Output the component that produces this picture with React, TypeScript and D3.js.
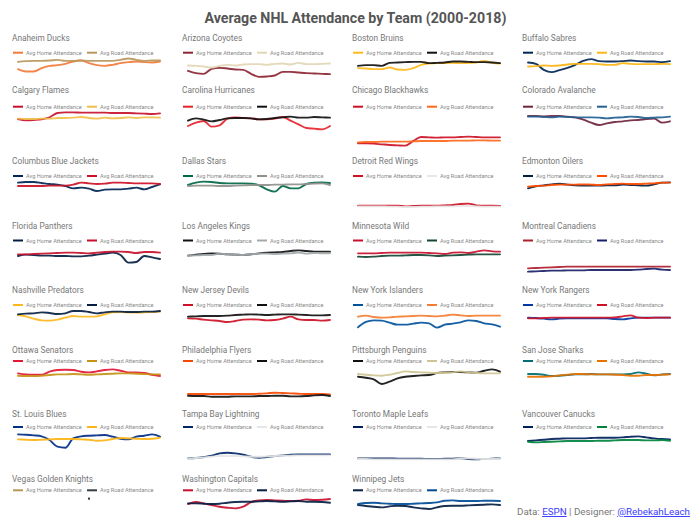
import React from "react";
import * as d3 from "d3";

const YEARS = [2000, 2001, 2002, 2003, 2004, 2005, 2006, 2007, 2008, 2009, 2010, 2011, 2012, 2013, 2014, 2015, 2016, 2017, 2018];

const TEAMS = [
  "Anaheim Ducks", "Arizona Coyotes", "Boston Bruins", "Buffalo Sabres",
  "Calgary Flames", "Carolina Hurricanes", "Chicago Blackhawks", "Colorado Avalanche",
  "Columbus Blue Jackets", "Dallas Stars", "Detroit Red Wings", "Edmonton Oilers",
  "Florida Panthers", "Los Angeles Kings", "Minnesota Wild", "Montreal Canadiens",
  "Nashville Predators", "New Jersey Devils", "New York Islanders", "New York Rangers",
  "Ottawa Senators", "Philadelphia Flyers", "Pittsburgh Penguins", "San Jose Sharks",
  "St. Louis Blues", "Tampa Bay Lightning", "Toronto Maple Leafs", "Vancouver Canucks",
  "Vegas Golden Knights", "Washington Capitals", "Winnipeg Jets",
];

const HOME_COLORS = [
  "#F47A38", "#8C2633", "#FFB81C", "#002654",
  "#C8102E", "#E4242B", "#CE1126", "#6F263D",
  "#002654", "#006847", "#CE1126", "#041E42",
  "#041E42", "#111111", "#C8102E", "#AF1E2D",
  "#FFB81C", "#CE1126", "#00539B", "#0038A8",
  "#E31837", "#F74902", "#111111", "#006D75",
  "#002F87", "#002868", "#00205B", "#00205B",
  "#B4975A", "#C8102E", "#041E42",
];

const ROAD_COLORS = [
  "#B9975B", "#E2D6B5", "#111111", "#FCB514",
  "#F1BE48", "#111111", "#FF671B", "#236192",
  "#CE1126", "#8F8F8C", "#E6E6E6", "#FF4C00",
  "#C8102E", "#A2AAAD", "#154734", "#192168",
  "#041E42", "#111111", "#F47D30", "#CE1126",
  "#C69214", "#111111", "#CFC493", "#EA7200",
  "#FCB514", "#E6E6E6", "#E6E6E6", "#00843D",
  "#333F42", "#041E42", "#004C97",
];

// Average attendance index (thousands)
const anaheimHome = [16.4, 15.7, 15.7, 16.7, 17.4, 17.6, 18.0, 18.7, 19.0, 18.2, 17.6, 17.4, 17.7, 18.2, 18.5, 18.7, 18.5, 18.4, 18.7];
const anaheimRoad = [18.6, 18.8, 18.9, 18.9, 19.0, 19.2, 18.9, 18.9, 19.0, 18.9, 18.9, 18.9, 18.9, 19.2, 19.6, 19.2, 18.9, 19.0, 19.0];
const arizonaHome = [15.9, 15.2, 15.0, 16.5, 16.8, 16.6, 16.3, 16.2, 15.0, 14.1, 14.2, 14.5, 15.6, 15.6, 15.4, 15.2, 15.1, 15.0, 14.9];
const arizonaRoad = [17.5, 17.4, 17.2, 16.9, 17.4, 17.7, 17.5, 17.8, 17.9, 17.9, 17.7, 18.0, 18.1, 17.8, 18.3, 17.9, 17.9, 18.0, 18.1];
const bostonHome = [16.7, 16.6, 16.4, 16.4, 16.9, 16.3, 16.2, 16.7, 17.7, 18.1, 18.2, 18.2, 18.3, 18.2, 18.3, 18.4, 18.9, 18.3, 18.1];
const bostonRoad = [17.4, 17.6, 17.6, 17.4, 18.3, 18.4, 18.5, 18.6, 18.6, 18.2, 18.3, 18.4, 18.7, 18.7, 18.6, 18.5, 18.5, 18.4, 18.2];
const buffaloHome = [18.4, 18.0, 16.2, 15.5, 16.1, 16.8, 17.7, 18.9, 19.4, 18.8, 18.7, 18.7, 18.8, 19.0, 18.8, 18.7, 18.7, 18.5, 18.8];
const buffaloRoad = [17.2, 17.3, 17.5, 17.4, 17.5, 17.8, 18.0, 18.0, 18.0, 17.9, 17.7, 17.7, 18.2, 18.0, 17.9, 17.9, 17.9, 18.0, 17.9];
const calgaryHome = [17.2, 16.8, 16.9, 17.1, 17.7, 19.0, 19.2, 19.2, 19.1, 19.1, 19.1, 19.1, 19.0, 19.0, 19.0, 18.9, 18.8, 18.7, 18.9];
const calgaryRoad = [17.3, 17.2, 17.2, 17.3, 17.3, 17.5, 17.5, 17.6, 17.8, 17.5, 17.3, 17.6, 17.4, 17.5, 17.7, 17.5, 17.7, 17.7, 17.6];
const carolinaHome = [15.1, 16.1, 16.6, 14.9, 15.3, 17.3, 17.7, 17.5, 17.4, 17.1, 17.1, 17.3, 17.8, 16.7, 15.6, 14.5, 14.3, 14.1, 15.1];
const carolinaRoad = [16.7, 17.4, 17.0, 16.5, 16.9, 17.4, 17.5, 17.5, 17.4, 17.1, 17.2, 17.5, 17.7, 17.9, 17.6, 17.6, 17.8, 17.7, 17.6];
const chicagoHome = [9.9, 9.9, 9.8, 9.6, 9.4, 9.3, 9.2, 10.6, 11.8, 11.7, 11.6, 11.7, 11.7, 11.8, 11.9, 11.8, 11.7, 11.7, 11.7];
const chicagoRoad = [10.2, 10.3, 10.3, 10.4, 10.4, 10.4, 10.4, 10.5, 10.6, 10.6, 10.6, 10.6, 10.7, 10.7, 10.7, 10.8, 10.8, 10.7, 10.7];
const coloradoHome = [18.1, 18.1, 18.0, 18.1, 18.1, 17.9, 17.7, 17.0, 16.1, 15.4, 15.9, 16.3, 16.5, 16.8, 16.9, 17.2, 17.3, 16.1, 16.5];
const coloradoRoad = [17.9, 17.9, 17.8, 17.7, 17.9, 17.8, 17.7, 17.7, 17.7, 17.6, 17.4, 17.6, 17.7, 17.9, 17.8, 17.5, 17.6, 17.7, 17.9];
const columbusHome = [19.4, 19.6, 19.6, 19.3, 19.0, 18.8, 18.4, 17.7, 17.9, 17.6, 16.9, 17.3, 17.4, 17.4, 17.6, 17.9, 17.4, 18.1, 18.9];
const columbusRoad = [18.4, 18.4, 18.4, 18.4, 18.5, 18.5, 18.5, 18.8, 19.4, 19.2, 19.0, 19.1, 19.4, 19.4, 19.3, 19.2, 19.2, 19.2, 19.0];
const dallasHome = [18.7, 19.4, 19.7, 19.6, 19.3, 19.2, 19.2, 19.2, 19.1, 18.6, 17.4, 16.7, 18.4, 17.7, 17.7, 19.0, 19.4, 19.5, 19.3];
const dallasRoad = [18.4, 18.5, 18.5, 18.5, 18.4, 18.4, 18.5, 18.6, 18.7, 18.7, 18.7, 18.8, 18.8, 18.9, 18.9, 19.0, 19.1, 19.2, 18.7];
const detroitHome = [12.5, 12.5, 12.5, 12.5, 12.5, 12.5, 12.3, 12.4, 12.5, 12.5, 12.5, 12.6, 12.7, 13.0, 13.1, 12.6, 12.5, 12.5, 12.4];
const detroitRoad = [12.3, 12.3, 12.3, 12.3, 12.2, 12.2, 12.1, 12.1, 12.2, 12.2, 12.3, 12.3, 12.3, 12.4, 12.4, 12.3, 12.2, 12.2, 12.2];
const edmontonHome = [17.7, 18.3, 18.6, 18.9, 19.1, 18.8, 18.6, 18.5, 18.5, 18.5, 18.6, 18.6, 18.8, 18.7, 18.6, 18.5, 18.9, 19.4, 19.5];
const edmontonRoad = [18.2, 18.4, 18.5, 18.7, 18.8, 18.8, 18.8, 18.9, 18.8, 18.7, 18.9, 19.0, 19.1, 19.0, 19.0, 19.1, 19.2, 19.4, 19.4];
const floridaHome = [16.9, 17.3, 17.2, 17.0, 17.0, 16.9, 16.9, 16.8, 16.8, 17.0, 17.3, 17.6, 17.9, 17.2, 14.9, 15.1, 16.9, 16.5, 16.0];
const floridaRoad = [17.4, 17.4, 17.5, 17.6, 17.7, 17.8, 17.9, 17.9, 17.8, 17.7, 17.9, 18.1, 18.2, 18.2, 18.1, 17.8, 18.1, 18.1, 17.9];
const losAngelesHome = [17.0, 17.3, 17.5, 17.7, 17.6, 17.4, 17.3, 17.2, 17.4, 17.7, 17.9, 18.0, 18.1, 18.4, 18.6, 18.4, 18.2, 18.2, 18.2];
const losAngelesRoad = [17.0, 17.1, 17.2, 17.2, 17.6, 17.4, 17.3, 17.2, 17.4, 17.6, 17.6, 17.5, 17.6, 17.7, 17.9, 17.6, 17.8, 17.7, 17.7];
const minnesotaHome = [17.7, 17.7, 17.7, 17.8, 17.9, 17.9, 17.9, 17.9, 17.9, 17.8, 17.7, 17.5, 17.9, 18.0, 17.8, 18.2, 18.6, 18.3, 18.2];
const minnesotaRoad = [16.7, 16.6, 16.7, 16.9, 17.0, 17.0, 17.1, 17.2, 17.2, 17.1, 16.9, 17.0, 17.1, 17.2, 17.3, 17.4, 17.4, 17.4, 17.4];
const montrealHome = [13.2, 13.3, 13.4, 13.5, 13.6, 13.7, 13.7, 13.7, 13.7, 13.7, 13.7, 13.7, 13.7, 13.7, 13.7, 13.7, 13.7, 13.7, 13.7];
const montrealRoad = [12.2, 12.3, 12.4, 12.5, 12.5, 12.6, 12.6, 12.6, 12.7, 12.7, 12.7, 12.7, 12.7, 12.7, 12.8, 13.0, 13.1, 12.8, 12.7];
const nashvilleHome = [18.4, 18.0, 17.3, 16.8, 16.7, 17.0, 17.6, 18.1, 17.9, 17.9, 18.0, 18.6, 19.2, 19.3, 19.2, 19.1, 19.2, 19.3, 19.4];
const nashvilleRoad = [18.6, 18.8, 18.9, 19.2, 19.0, 18.7, 18.9, 19.6, 19.6, 19.3, 18.9, 19.2, 19.4, 19.4, 19.3, 19.3, 19.4, 19.4, 19.6];
const newJerseyHome = [17.4, 17.3, 17.0, 16.8, 16.6, 16.3, 16.6, 17.0, 17.1, 17.0, 16.8, 16.9, 17.3, 17.9, 17.1, 16.9, 16.9, 16.7, 16.9];
const newJerseyRoad = [17.9, 18.0, 18.1, 18.1, 18.1, 18.2, 18.4, 18.5, 18.6, 18.5, 18.4, 18.5, 18.6, 18.6, 18.5, 18.4, 18.3, 18.3, 18.4];
const islandersHome = [14.7, 16.3, 16.8, 16.7, 16.1, 15.5, 15.5, 15.8, 16.1, 15.9, 14.6, 15.5, 15.8, 16.2, 16.8, 16.6, 15.9, 15.6, 14.9];
const islandersRoad = [17.9, 18.2, 17.8, 17.6, 17.7, 17.9, 18.0, 18.1, 18.2, 18.1, 18.0, 18.2, 18.5, 18.3, 18.1, 18.2, 18.2, 18.2, 18.2];
const rangersHome = [17.6, 17.5, 17.3, 17.1, 17.3, 17.4, 17.4, 17.4, 17.4, 17.4, 17.4, 17.2, 17.1, 17.4, 17.6, 17.6, 17.6, 17.6, 17.6];
const rangersRoad = [17.4, 17.4, 17.5, 17.6, 17.6, 17.6, 17.6, 17.6, 17.6, 17.6, 17.6, 17.7, 18.0, 18.3, 17.6, 17.5, 17.6, 17.6, 17.6];
const ottawaHome = [18.8, 18.5, 18.4, 18.4, 19.3, 19.8, 19.9, 19.8, 19.3, 19.1, 19.4, 19.8, 20.0, 19.6, 19.1, 19.1, 18.9, 18.4, 18.0];
const ottawaRoad = [18.1, 18.0, 18.0, 18.1, 18.3, 18.5, 18.5, 18.6, 18.5, 18.4, 18.5, 18.6, 18.7, 18.8, 18.8, 18.7, 18.6, 18.5, 18.5];
const philadelphiaHome = [12.6, 12.6, 12.6, 12.6, 12.6, 12.6, 12.6, 12.6, 12.6, 12.7, 12.8, 13.0, 12.9, 12.8, 12.7, 12.6, 12.6, 12.6, 12.5];
const philadelphiaRoad = [12.1, 12.0, 12.0, 11.8, 11.8, 11.8, 11.9, 11.9, 11.9, 12.0, 12.0, 12.1, 12.1, 11.9, 11.9, 12.0, 12.2, 12.3, 12.0];
const pittsburghHome = [17.8, 17.5, 17.0, 15.6, 16.3, 17.3, 17.8, 18.0, 18.2, 18.3, 18.9, 19.1, 19.2, 19.2, 19.1, 19.0, 19.6, 20.0, 19.3];
const pittsburghRoad = [18.6, 18.4, 18.2, 18.1, 18.4, 18.9, 19.4, 19.2, 19.1, 19.0, 18.9, 18.9, 19.1, 19.4, 19.1, 18.9, 18.8, 18.8, 18.8];
const sanJoseHome = [18.6, 18.6, 18.4, 18.0, 18.1, 18.3, 18.5, 18.5, 18.6, 18.5, 18.5, 18.5, 18.5, 18.6, 19.1, 18.7, 18.2, 18.5, 18.6];
const sanJoseRoad = [17.8, 17.8, 17.8, 17.9, 18.2, 18.4, 18.6, 18.6, 18.5, 18.5, 18.5, 18.4, 18.3, 18.1, 18.1, 18.3, 18.3, 18.4, 18.5];
const stLouisHome = [19.7, 19.6, 19.4, 19.1, 18.0, 16.0, 15.7, 18.5, 19.1, 19.3, 19.4, 19.5, 19.0, 18.4, 18.2, 19.0, 19.3, 19.7, 19.0];
const stLouisRoad = [18.2, 18.1, 18.0, 18.1, 18.2, 18.3, 18.3, 18.3, 18.2, 18.1, 17.8, 17.9, 18.3, 18.6, 18.5, 18.4, 18.3, 18.4, 18.7];
const tampaBayHome = [12.5, 12.6, 12.9, 13.3, 14.0, 14.2, 14.0, 13.6, 13.0, 12.7, 12.9, 13.2, 13.4, 13.6, 13.7, 13.7, 13.7, 13.7, 13.7];
const tampaBayRoad = [12.4, 12.6, 12.8, 13.0, 13.2, 13.2, 13.2, 13.1, 13.0, 13.0, 13.1, 13.2, 13.3, 13.3, 13.4, 13.4, 13.4, 13.4, 13.4];
const torontoHome = [12.5, 12.5, 12.5, 12.5, 12.5, 12.4, 12.4, 12.4, 12.4, 12.3, 12.3, 12.4, 12.4, 12.5, 12.3, 12.2, 12.3, 12.4, 12.5];
const torontoRoad = [12.3, 12.3, 12.2, 12.2, 12.2, 12.2, 12.2, 12.2, 12.2, 12.2, 12.2, 12.2, 12.2, 12.4, 12.5, 12.4, 12.3, 12.3, 12.4];
const vancouverHome = [17.7, 17.9, 18.1, 18.3, 18.4, 18.5, 18.5, 18.5, 18.6, 18.7, 18.7, 18.7, 18.8, 19.0, 19.1, 18.8, 18.5, 18.3, 18.2];
const vancouverRoad = [17.5, 17.3, 17.4, 17.5, 17.6, 17.7, 17.7, 17.7, 17.7, 17.8, 17.8, 17.9, 18.0, 18.0, 18.0, 17.9, 17.9, 18.0, 17.8];
const vegasHome = [null, null, null, null, null, null, null, null, null, null, null, null, null, null, null, null, null, null, 19.9];
const vegasRoad = [null, null, null, null, null, null, null, null, null, null, null, null, null, null, null, null, null, null, 19.9];
const washingtonHome = [18.3, 18.9, 18.5, 18.0, 17.5, 17.2, 17.0, 17.5, 18.9, 19.4, 19.5, 19.4, 19.3, 19.2, 19.3, 19.7, 19.5, 19.6, 19.8];
const washingtonRoad = [18.5, 18.5, 18.4, 18.3, 18.4, 18.7, 18.9, 19.0, 19.0, 19.1, 19.2, 19.1, 19.0, 19.1, 19.2, 19.0, 19.0, 18.9, 18.7];
const winnipegHome = [18.0, 17.7, 17.5, 17.3, 17.6, 17.8, 17.7, 17.3, 17.0, 16.8, 17.3, 17.7, 17.8, 17.8, 17.9, 18.0, 18.1, 18.2, 18.0];
const winnipegRoad = [18.3, 18.6, 18.7, 18.5, 18.4, 18.3, 18.3, 18.4, 18.5, 18.6, 18.8, 19.3, 19.4, 19.2, 19.2, 19.2, 19.3, 19.3, 19.2];

const HOME_SERIES = [
  anaheimHome, arizonaHome, bostonHome, buffaloHome, calgaryHome, carolinaHome, chicagoHome, coloradoHome,
  columbusHome, dallasHome, detroitHome, edmontonHome, floridaHome, losAngelesHome, minnesotaHome, montrealHome,
  nashvilleHome, newJerseyHome, islandersHome, rangersHome, ottawaHome, philadelphiaHome, pittsburghHome, sanJoseHome,
  stLouisHome, tampaBayHome, torontoHome, vancouverHome, vegasHome, washingtonHome, winnipegHome,
];
const ROAD_SERIES = [
  anaheimRoad, arizonaRoad, bostonRoad, buffaloRoad, calgaryRoad, carolinaRoad, chicagoRoad, coloradoRoad,
  columbusRoad, dallasRoad, detroitRoad, edmontonRoad, floridaRoad, losAngelesRoad, minnesotaRoad, montrealRoad,
  nashvilleRoad, newJerseyRoad, islandersRoad, rangersRoad, ottawaRoad, philadelphiaRoad, pittsburghRoad, sanJoseRoad,
  stLouisRoad, tampaBayRoad, torontoRoad, vancouverRoad, vegasRoad, washingtonRoad, winnipegRoad,
];

const COL_X = [12, 182, 352, 522];
const ROW_TITLE_Y = [40.5, 93, 164, 229, 293, 352.7, 416.7, 481.7];
const ROW_LEGEND_Y = [52.7, 106.7, 176, 240.5, 305, 361, 427, 490.3];
const FONT = "Roboto, 'Noto Sans', sans-serif";

function Panel({ i }: { i: number }) {
  const col = i % 4;
  const row = Math.floor(i / 4);
  const tx = COL_X[col];
  const ty = ROW_TITLE_Y[row];
  const ly = ROW_LEGEND_Y[row];
  const home = HOME_SERIES[i];
  const road = ROAD_SERIES[i];
  const defYears = YEARS.filter((_, k) => home[k] != null || road[k] != null);
  const x = d3.scaleLinear().domain(d3.extent(defYears) as [number, number]).range([tx + 6, tx + 148]);
  const y = d3.scaleLinear().domain([0, 25]).range([ty + 83.33, ty]);
  const line = d3
    .line<number | null>()
    .defined((d) => d != null)
    .x((_, k) => x(YEARS[k]))
    .y((d) => y(d as number))
    .curve(d3.curveMonotoneX);
  const series = [
    { data: home, color: HOME_COLORS[i] },
    { data: road, color: ROAD_COLORS[i] },
  ];
  return (
    <g>
      <text x={tx} y={ty} fontSize={8.3} fill="#777" fontFamily={FONT}>{TEAMS[i]}</text>
      <line x1={tx + 1} x2={tx + 11} y1={ly} y2={ly} stroke={HOME_COLORS[i]} strokeWidth={2} />
      <text x={tx + 14} y={ly + 2} fontSize={5.6} fill="#888" fontFamily={FONT}>Avg Home Attendance</text>
      <line x1={tx + 75} x2={tx + 85} y1={ly} y2={ly} stroke={ROAD_COLORS[i]} strokeWidth={2} />
      <text x={tx + 88} y={ly + 2} fontSize={5.6} fill="#888" fontFamily={FONT}>Avg Road Attendance</text>
      {series.map((s, k) => {
        const pts = s.data.map((d, j) => ({ d, j })).filter((p) => p.d != null);
        if (pts.length === 1) {
          return <circle key={k} cx={x(YEARS[pts[0].j])} cy={y(pts[0].d as number)} r={1.1} fill={s.color} />;
        }
        return (
          <path key={k} d={line(s.data) || ""} fill="none" stroke={s.color} strokeWidth={1.9}
            strokeOpacity={0.92} strokeLinejoin="round" strokeLinecap="round" />
        );
      })}
    </g>
  );
}

export default function App() {
  return (
    <svg width={700} height={525} style={{ position: "absolute", left: 0, top: 0, background: "#fff" }}>
      <text x={355.5} y={23} textAnchor="middle" fontSize={14.2} fontWeight="bold" fill="#555" fontFamily={FONT}>
        Average NHL Attendance by Team (2000-2018)
      </text>
      {TEAMS.map((_, i) => (
        <Panel key={i} i={i} />
      ))}
      <text x={690} y={515} textAnchor="end" fontSize={9.8} fill="#777" fontFamily={FONT}>
        Data: <tspan fill="#3c3cff" textDecoration="underline">ESPN</tspan> | Designer:{" "}
        <tspan fill="#3c3cff" textDecoration="underline">@RebekahLeach</tspan>
      </text>
    </svg>
  );
}
